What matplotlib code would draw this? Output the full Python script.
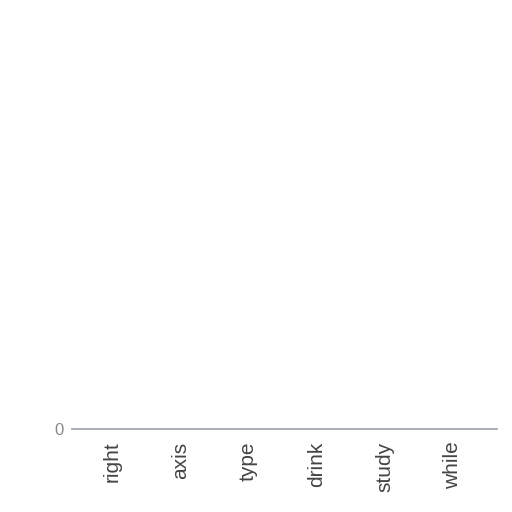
import matplotlib
matplotlib.use("Agg")
import matplotlib.pyplot as plt

categories = ["right", "axis", "type", "drink", "study", "while"]
values = [0, 0, 0, 0, 0, 0]
y_ticks = [0]

plt.rcParams['font.family'] = ['Liberation Sans', 'DejaVu Sans']

fig = plt.figure(figsize=(5.12, 5.12), dpi=100)
fig.patch.set_facecolor("white")
ax = fig.add_axes([72/512, (512-429)/512, 425/512, 0.80])

x = list(range(len(categories)))
ax.bar(x, values, width=0.6, color="#5b8ff9")

ax.set_xlim(-0.587, 5.645)
ax.set_ylim(0, 1)
ax.set_yticks(y_ticks)
ax.set_yticklabels([str(v) for v in y_ticks], fontsize=12, color="#888888")
ax.set_xticks(x)
ax.set_xticklabels(categories, rotation=90, fontsize=15, color="#444444", va="top", ha="center")

for s in ["top", "right", "left"]:
    ax.spines[s].set_visible(False)
ax.spines["bottom"].set_color("#a0a8b0")
ax.spines["bottom"].set_linewidth(1.3)
ax.tick_params(axis="x", length=0, pad=9)
ax.tick_params(axis="y", length=0, pad=6)

fig.savefig("out.png", dpi=100, facecolor="white")
